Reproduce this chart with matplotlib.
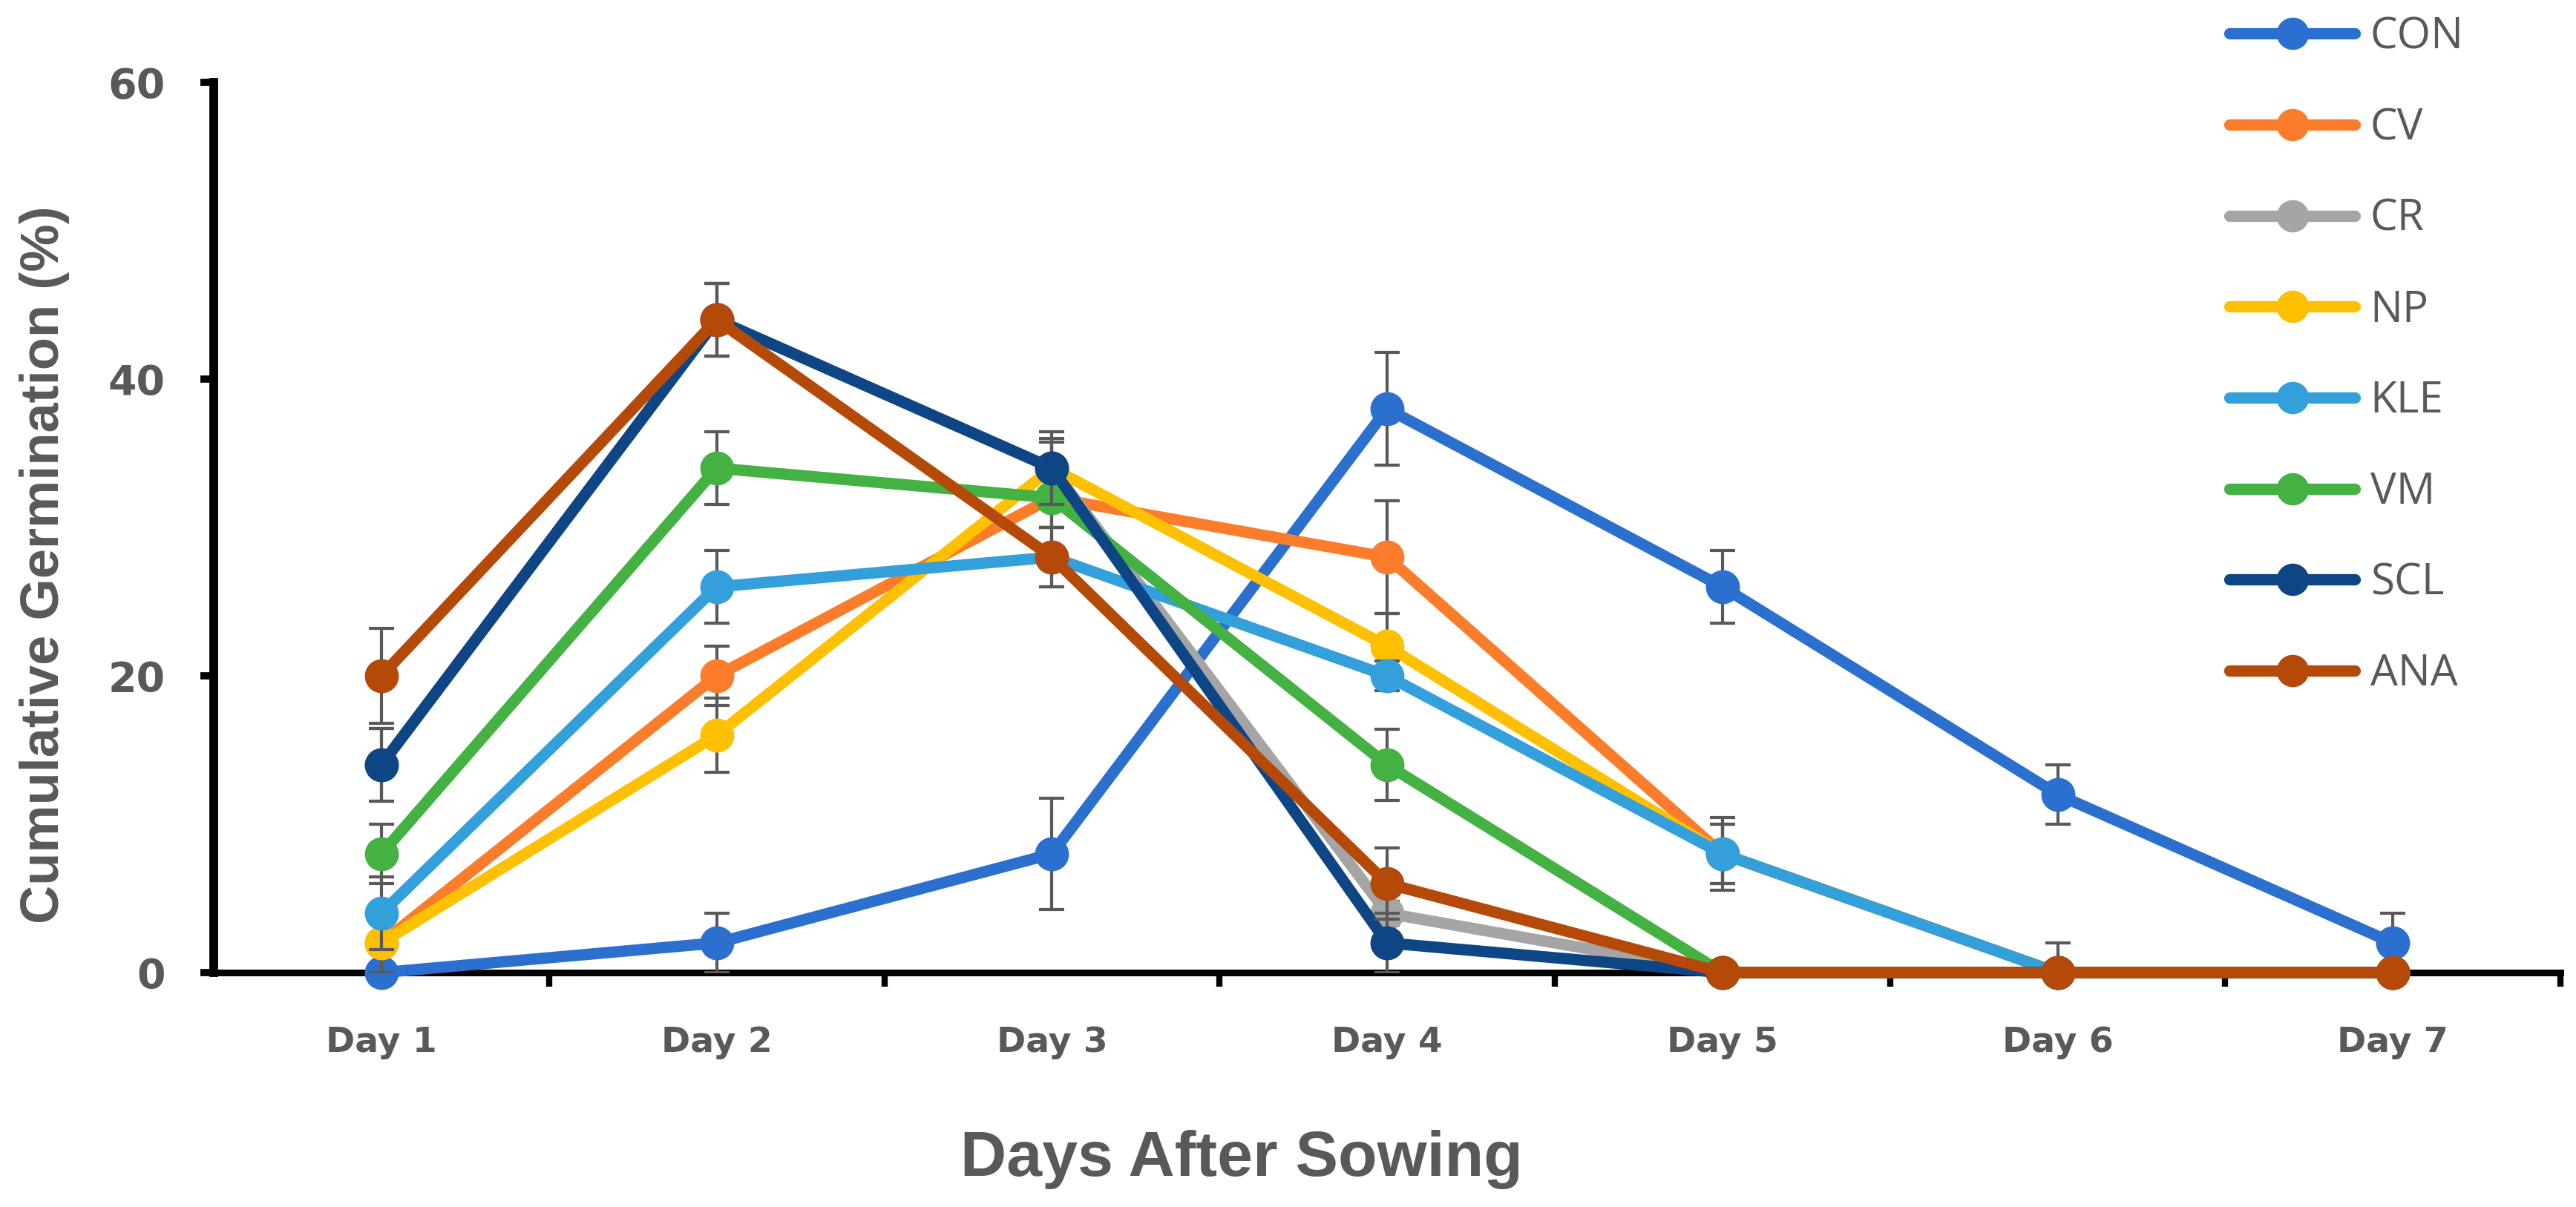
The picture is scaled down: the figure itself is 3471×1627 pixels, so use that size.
import matplotlib
matplotlib.use('Agg')
import matplotlib.pyplot as plt

# ---- data ----
days = ['Day 1', 'Day 2', 'Day 3', 'Day 4', 'Day 5', 'Day 6', 'Day 7']
series = ['CON', 'CV', 'CR', 'NP', 'KLE', 'VM', 'SCL', 'ANA']

con = [0, 2, 8, 38, 26, 12, 2]
cv = [2, 20, 32, 28, 8, 0, 0]
cr = [14, 44, 34, 4, 0, 0, 0]
np_ = [2, 16, 34, 22, 8, 0, 0]
kle = [4, 26, 28, 20, 8, 0, 0]
vm = [8, 34, 32, 14, 0, 0, 0]
scl = [14, 44, 34, 2, 0, 0, 0]
ana = [20, 44, 28, 6, 0, 0, 0]

con_err = [0, 2, 3.75, 3.8, 2.45, 2, 2]
cv_err = [2, 2, 2, 3.8, 2, 0, 0]
cr_err = [2.45, 2.45, 2, 0.8, 0, 0, 0]
np_err = [2, 2.5, 1.75, 2.2, 2, 0, 0]
kle_err = [2.45, 2.45, 2, 1.0, 2.45, 2, 0]
vm_err = [2, 2.45, 2, 2.4, 0, 0, 0]
scl_err = [2.45, 2.45, 2.45, 2, 0, 0, 0]
ana_err = [3.2, 2.45, 2, 2.4, 0, 0, 0]

values = [con, cv, cr, np_, kle, vm, scl, ana]
errors = [con_err, cv_err, cr_err, np_err, kle_err, vm_err, scl_err, ana_err]
colors = ['#2b6fcf', '#fb7d2b', '#a5a5a5', '#ffc000',
          '#33a0dc', '#43b243', '#0d4585', '#b54a08']

GREY = '#595959'

fig = plt.figure(figsize=(34.71, 16.27), dpi=100)
ax = fig.add_axes([0.083, 0.1942, 0.911, 0.7376])

x = list(range(1, len(days) + 1))
for i, (name, vals, errs, col) in enumerate(zip(series, values, errors, colors)):
    z = 3 + i
    ax.errorbar(x, vals, yerr=errs, fmt='none', ecolor=GREY, elinewidth=3,
                capsize=12.5, capthick=3, zorder=z)
    ax.plot(x, vals, color=col, lw=11, marker='o', ms=32, mec=col,
            label=name, zorder=z + 0.5, clip_on=False, solid_capstyle='round')

ax.set_xlim(0.5, 7.5)
ax.set_ylim(0, 60)
ax.set_yticks([0, 20, 40, 60])
ax.set_xticks(x)
ax.set_xticklabels(days)
ax.set_xticks([v + 0.5 for v in x], minor=True)

for s in ['top', 'right']:
    ax.spines[s].set_visible(False)
ax.spines['left'].set_linewidth(8.5)
ax.spines['bottom'].set_linewidth(6.5)
ax.spines['left'].set_zorder(20)
ax.spines['bottom'].set_zorder(1)

ax.tick_params(axis='y', direction='out', length=13, width=7, pad=34,
               labelsize=40, labelcolor=GREY)
ax.tick_params(axis='x', which='major', length=0, pad=52,
               labelsize=34, labelcolor=GREY)
ax.tick_params(axis='x', which='minor', direction='out', length=14, width=6)
for lab in ax.get_yticklabels() + ax.get_xticklabels():
    lab.set_fontweight('bold')
    lab.set_family('DejaVu Sans')

ax.set_ylabel('Cumulative Germination (%)', fontsize=52, fontweight='bold',
              color=GREY, family='Liberation Sans')
ax.yaxis.set_label_coords(-0.072, 0.458)
ax.yaxis.label.set_va('center')
ax.set_xlabel('Days After Sowing', fontsize=62, fontweight='bold',
              color=GREY, family='Liberation Sans')
ax.xaxis.set_label_coords(0.438, -0.21)
ax.xaxis.label.set_va('center')

leg = fig.legend(loc='upper left', bbox_to_anchor=(0.8655, 0.987),
                 frameon=False, fontsize=42, handlelength=2.9,
                 handletextpad=0.35, labelspacing=1.1, borderpad=0,
                 borderaxespad=0, markerscale=0.95)
for t in leg.get_texts():
    t.set_color(GREY)
    t.set_family('Open Sans')

fig.savefig('out.png', dpi=100)
